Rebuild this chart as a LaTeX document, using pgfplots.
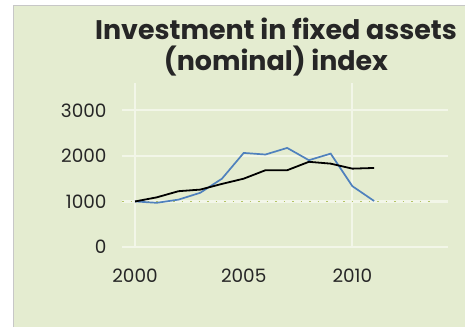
\documentclass[border=0pt]{standalone}
\usepackage{pgfplots}
\pgfplotsset{compat=1.18}
\usepackage{fontspec}
\setmainfont{Poppins}
\definecolor{panelbg}{RGB}{228,236,208}
\definecolor{gridc}{RGB}{242,246,232}
\definecolor{serblue}{RGB}{79,129,189}
\definecolor{dotgreen}{RGB}{180,196,100}
\begin{document}
\begin{tikzpicture}
\useasboundingbox (0,0) rectangle (465bp,328bp);
\fill[white] (0,0) rectangle (465bp,328bp);
\fill[panelbg] (13bp,1bp) rectangle (465bp,323bp);
\draw[black!22, line width=1bp] (13.5bp,1bp) -- (13.5bp,322.5bp) -- (465bp,322.5bp);
\node[font=\fontsize{27}{31}\selectfont\bfseries, align=center, text=black!85] at (276bp,281bp) {Investment in fixed assets\\(nominal) index};
\begin{axis}[
  at={(122bp,81bp)}, anchor=south west,
  scale only axis, width=326bp, height=164bp,
  xmin=1999.4, xmax=2014.4, ymin=0, ymax=3600,
  axis line style={draw=none},
  xtick={2000,2005,2010}, ytick={0,1000,2000,3000},
  major tick length=0pt,
  extra x ticks={2000,2010}, extra x tick labels={},
  extra x tick style={grid=major},
  ymajorgrids=true,
  major grid style={draw=gridc, line width=2.2bp},
  /pgf/number format/1000 sep={},
  /pgf/number format/assume math mode=true,
  tick label style={font=\fontsize{18.5}{22}\selectfont, text=black!85},
  yticklabel style={xshift=-12bp},
  xticklabel style={yshift=-18bp},
]
\addplot[dotgreen, line width=1.8bp, dash pattern=on 1.5bp off 7bp] coordinates {(1999.4,1000) (2013.6,1000)};
\addplot[serblue, line width=1.7bp] coordinates {
(2000,1000) (2001,970) (2002,1040) (2003,1190) (2004,1500) (2005,2065)
(2006,2030) (2007,2175) (2008,1905) (2009,2050) (2010,1335) (2011,1010)};
\addplot[black, line width=1.8bp] coordinates {
(2000,1000) (2001,1090) (2002,1225) (2003,1260) (2004,1385) (2005,1500)
(2006,1685) (2007,1685) (2008,1870) (2009,1830) (2010,1720) (2011,1735)};
\end{axis}
\end{tikzpicture}
\end{document}
